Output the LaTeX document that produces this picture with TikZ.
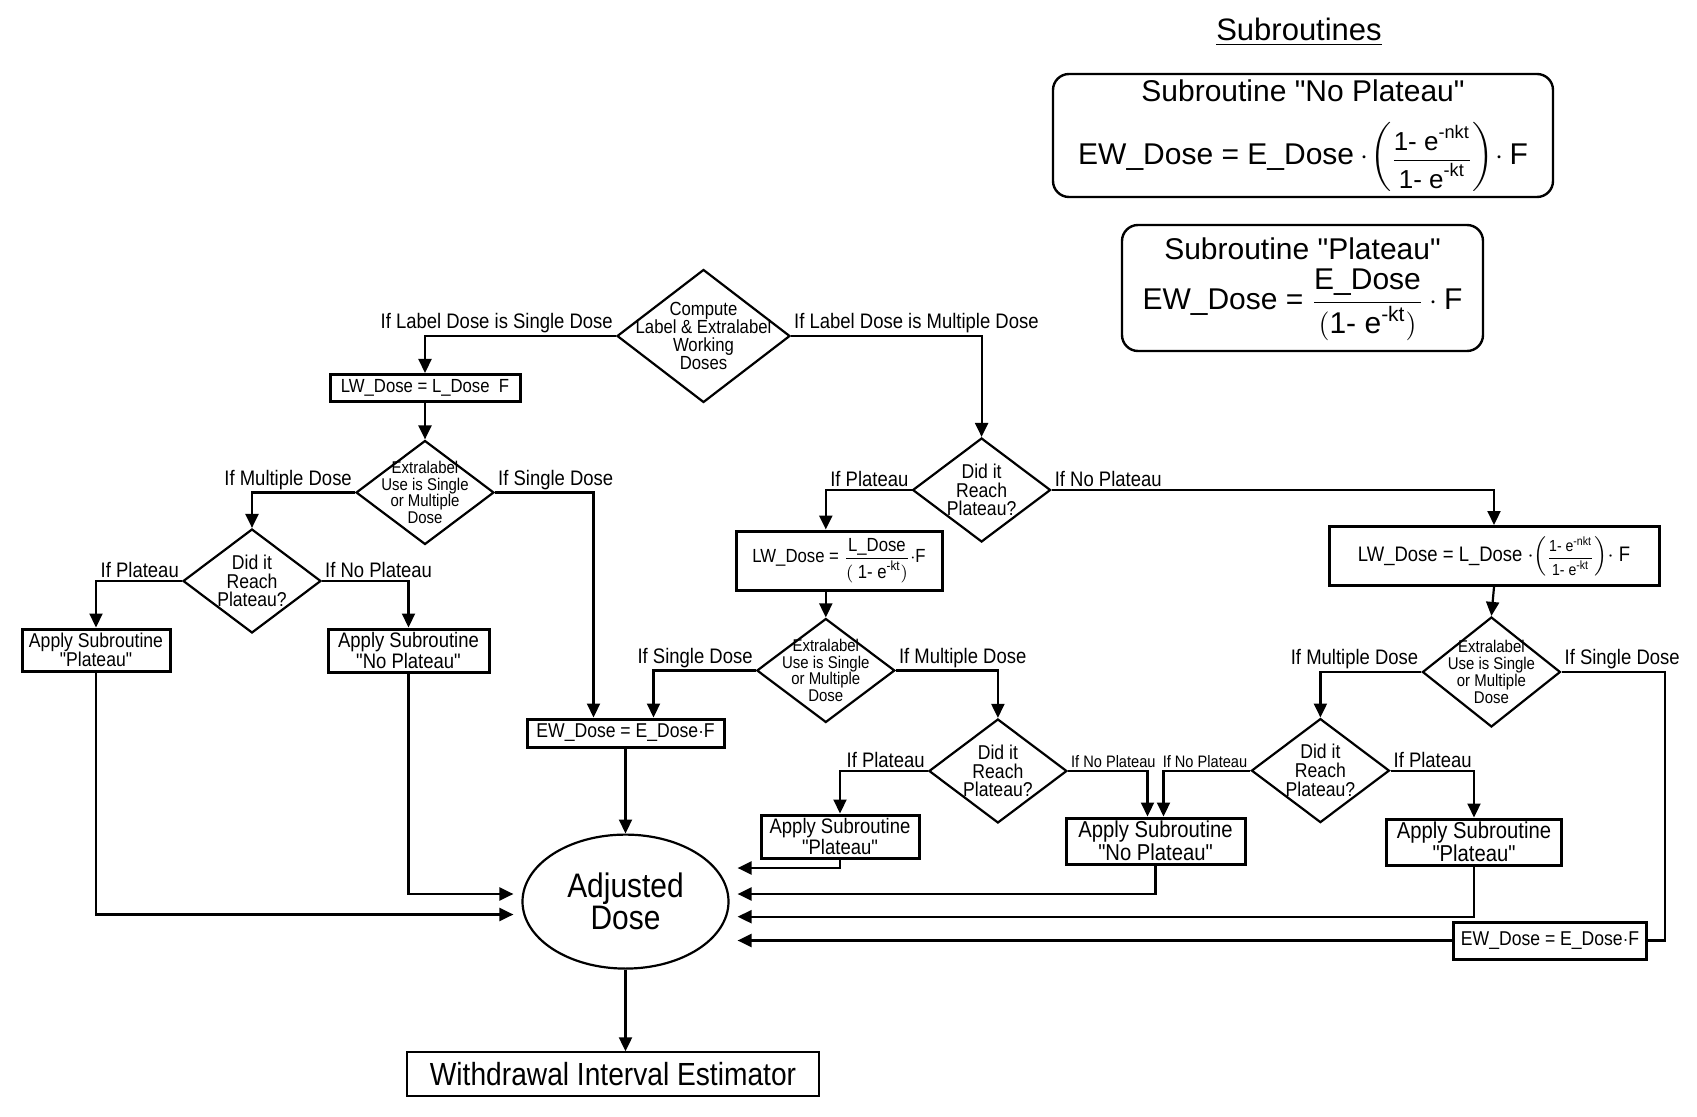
\documentclass[tikz,border=0pt]{standalone}
\usepackage{amsmath}
\usepackage{fontspec}
\setmainfont{Liberation Sans}
\newfontfamily\subfont{Liberation Sans}
\newfontfamily\narrowfont{Liberation Sans}[FakeStretch=0.88]
\usetikzlibrary{shapes.geometric,arrows.meta,calc}
\tikzset{every picture/.style={line width=1.1pt}}

\begin{document}
\begin{tikzpicture}[x=0.5pt,y=0.5pt,yscale=-1,xscale=1,
	flow/.style={-{Triangle[length=7pt,width=6.5pt]}},
	decide/.style={diamond, draw, inner sep=0pt, minimum width=69pt, minimum height=52pt},
	dtext/.style={align=center, inner sep=0pt, font=\narrowfont\fontsize{8.5}{8.4}\selectfont},
	ptext/.style={align=center, inner sep=0pt, font=\narrowfont\fontsize{10}{9.4}\selectfont},
	proc/.style={draw, line width=1.5pt, inner sep=1pt, align=center, font=\narrowfont\fontsize{10.5}{9.5}\selectfont},
	cond/.style={inner sep=1pt, font=\narrowfont\fontsize{10.5}{12}\selectfont},
	condsmall/.style={inner sep=1pt, font=\narrowfont\fontsize{8.3}{10}\selectfont},
	subbox/.style={draw, rounded corners=8pt, line width=1.2pt},
	subtext/.style={inner sep=0pt, font=\subfont\fontsize{15}{18}\selectfont}]
	\useasboundingbox (0,0) rectangle (1697,1117);

	% Text Node
	\node[subtext, font=\subfont\fontsize{15.5}{18}\selectfont] (subt) at (1299,32) {\underline{Subroutines}};
	%Rounded Rect
	\node[subbox, minimum width=250pt, minimum height=61.5pt] (subNP) at (1303,135.5) {};
	\node[subtext] (subNPt) at (1303,91) {Subroutine "No Plateau"};
	\node[subtext] (subNPf) at (1303,157) {$\text{EW\_Dose = E\_Dose}\cdot\!\biggl(\vcenter{\hbox{\fontsize{13}{13}\selectfont$\dfrac{\text{1- e}^{\text{-nkt}}}{\text{1- e}^{\text{-kt}}}$}}\biggr)\!\cdot\text{F}$};
	%Rounded Rect
	\node[subbox, minimum width=180.5pt, minimum height=63pt] (subP) at (1302.5,288) {};
	\node[subtext] (subPt) at (1302.5,249) {Subroutine "Plateau"};
	\node[subtext] (subPf) at (1302.5,305) {$\text{EW\_Dose = }\dfrac{\text{E\_Dose}}{(\text{1- e}^{\text{-kt}})}\cdot\text{F}$};

	%Flowchart: Decision
	\node[decide, minimum width=86.5pt, minimum height=66.5pt] (d0) at (703.5,336) {};
	\node[dtext, font=\narrowfont\fontsize{9.5}{9}\selectfont] (d0t) at (d0) {Compute\\Label \& Extralabel\\Working\\Doses};
	%Flowchart: Decision
	\node[decide] (d2) at (425,492.5) {};
	\node[dtext] (d2t) at (d2) {Extralabel\\Use is Single\\or Multiple\\Dose};
	%Flowchart: Decision
	\node[decide] (d3) at (252,581) {};
	\node[ptext] (d3t) at (d3) {Did it\\Reach\\Plateau?};
	%Flowchart: Decision
	\node[decide] (d1) at (981.6,490) {};
	\node[ptext] (d1t) at (d1) {Did it\\Reach\\Plateau?};
	%Flowchart: Decision
	\node[decide] (d4) at (825.8,670.5) {};
	\node[dtext] (d4t) at (d4) {Extralabel\\Use is Single\\or Multiple\\Dose};
	%Flowchart: Decision
	\node[decide] (d6) at (997.9,771) {};
	\node[ptext] (d6t) at (d6) {Did it\\Reach\\Plateau?};
	%Flowchart: Decision
	\node[decide, minimum height=55pt] (d5) at (1491.4,672) {};
	\node[dtext] (d5t) at (d5) {Extralabel\\Use is Single\\or Multiple\\Dose};
	%Flowchart: Decision
	\node[decide] (d7) at (1320.4,770.6) {};
	\node[ptext] (d7t) at (d7) {Did it\\Reach\\Plateau?};

	%Flowchart: Process
	\node[proc, minimum width=95pt, minimum height=13.5pt, font=\narrowfont\fontsize{9.5}{9}\selectfont] (lw1) at (425,388) {LW\_Dose = L\_Dose\ \ F};
	%Flowchart: Process
	\node[proc, minimum width=74pt, minimum height=21pt, font=\narrowfont\fontsize{10}{9.5}\selectfont] (pl1) at (96,650) {Apply Subroutine\\"Plateau"};
	%Flowchart: Process
	\node[proc, minimum width=80.5pt, minimum height=21.5pt] (np1) at (408.5,650.5) {Apply Subroutine\\"No Plateau"};
	%Flowchart: Process
	\node[proc, minimum width=98.5pt, minimum height=14pt, font=\narrowfont\fontsize{10}{9}\selectfont] (ew1) at (625.5,733) {EW\_Dose = E\_Dose$\cdot$F};
	%Flowchart: Process
	\node[proc, minimum width=103pt, minimum height=29.5pt, font=\narrowfont\fontsize{9.5}{9}\selectfont] (lw2) at (839,560.5) {LW\_Dose = $\dfrac{\text{L\_Dose}}{(\text{ 1- e}^{\text{-kt}})}\cdot$F};
	%Flowchart: Process
	\node[proc, minimum width=165pt, minimum height=29.5pt] (lw3) at (1494,556) {LW\_Dose = L\_Dose $\cdot\!\left(\vcenter{\hbox{\fontsize{8}{8}\selectfont$\dfrac{\text{1- e}^{\text{-nkt}}}{\text{1- e}^{\text{-kt}}}$}}\right)\!\cdot$ F};
	%Flowchart: Process
	\node[proc, minimum width=79pt, minimum height=21.5pt] (pl2) at (840,836.5) {Apply Subroutine\\"Plateau"};
	%Flowchart: Process
	\node[proc, minimum width=89.5pt, minimum height=23pt, font=\narrowfont\fontsize{11.5}{10.5}\selectfont] (np2) at (1155.5,841) {Apply Subroutine\\"No Plateau"};
	%Flowchart: Process
	\node[proc, minimum width=87.5pt, minimum height=23pt, font=\narrowfont\fontsize{11.5}{10.5}\selectfont] (pl3) at (1474,842) {Apply Subroutine\\"Plateau"};
	%Flowchart: Process
	\node[proc, minimum width=96.5pt, minimum height=18.5pt, font=\narrowfont\fontsize{10}{9}\selectfont] (ew2) at (1550,940.5) {EW\_Dose = E\_Dose$\cdot$F};

	%Shape: Ellipse
	\node[ellipse, draw, minimum width=103pt, minimum height=67pt, inner sep=0pt, align=center, font=\narrowfont\fontsize{17}{15}\selectfont] (ell) at (625.5,901.6) {Adjusted\\Dose};
	%Shape: Rectangle
	\node[draw, line width=0.7pt, minimum width=206pt, minimum height=22pt, font=\narrowfont\fontsize{16}{18}\selectfont] (wie) at (613,1074) {Withdrawal Interval Estimator};

	% Text Node
	\node[cond, anchor=south east] (c0l) at (d0.west) {If Label Dose is Single Dose};
	\node[cond, anchor=south west] (c0r) at (d0.east) {If Label Dose is Multiple Dose};
	\node[cond, anchor=south east] (c2l) at (d2.west) {If Multiple Dose};
	\node[cond, anchor=south west] (c2r) at (d2.east) {If Single Dose};
	\node[cond, anchor=south east] (c3l) at (d3.west) {If Plateau};
	\node[cond, anchor=south west] (c3r) at (d3.east) {If No Plateau};
	\node[cond, anchor=south east] (c1l) at (d1.west) {If Plateau};
	\node[cond, anchor=south west] (c1r) at (d1.east) {If No Plateau};
	\node[cond, anchor=south east] (c4l) at (d4.west) {If Single Dose};
	\node[cond, anchor=south west] (c4r) at (d4.east) {If Multiple Dose};
	\node[cond, anchor=south east] (c6l) at (d6.west) {If Plateau};
	\node[condsmall, anchor=south west] (c6r) at (d6.east) {If No Plateau};
	\node[cond, anchor=south east] (c5l) at (d5.west) {If Multiple Dose};
	\node[cond, anchor=south west] (c5r) at (d5.east) {If Single Dose};
	\node[condsmall, anchor=south east] (c7l) at (d7.west) {If No Plateau};
	\node[cond, anchor=south west] (c7r) at (d7.east) {If Plateau};

	\coordinate (inL) at ([xshift=-4pt]ell.west);
	\coordinate (inR) at ([xshift=4pt]ell.east);
	\coordinate (ew2c) at ($(ew2.east)+(17,0)$);

	%Straight Lines
	\draw[flow] (d0.west) -| (lw1.north);
	\draw[flow] (d0.east) -| (d1.north);
	\draw[flow] (lw1.south) -- (d2.north);
	\draw[flow] (d2.west) -| (d3.north);
	\draw[flow] (d2.east) -| ($(ew1.north)+(-32,0)$);
	\draw[flow] (d3.west) -| (pl1.north);
	\draw[flow] (d3.east) -| (np1.north);
	\draw[flow] (pl1.south) |- (inL |- 0,914.5);
	\draw[flow] (np1.south) |- (inL |- 0,894);
	\draw[flow] (ew1.south) -- (ell.north);
	\draw[flow] (ell.south) -- (ell.south |- wie.north);

	%Straight Lines
	\draw[flow] (d1.west) -| (d4.north |- lw2.north);
	\draw[flow] (d1.east) -| (lw3.north);
	\draw[flow] (lw2.south -| d4.north) -- (d4.north);
	\draw[flow] (lw3.south) -- (d5.north);
	\draw[flow] (d4.west) -| ($(ew1.north)+(28,0)$);
	\draw[flow] (d4.east) -| (d6.north);
	\draw[flow] (d6.west) -| (pl2.north);
	\draw[flow] (d6.east) -| ($(np2.north)+(-8,0)$);
	\draw[flow] (d5.west) -| (d7.north);
	\draw[flow] (d7.west) -| ($(np2.north)+(8,0)$);
	\draw[flow] (d7.east) -| (pl3.north);
	\draw (d5.east) -| (ew2c) -- (ew2.east);

	%Straight Lines
	\draw[flow] (pl2.south) |- (inR |- 0,868);
	\draw[flow] (np2.south) |- (inR |- 0,894);
	\draw[flow] (pl3.south) |- (inR |- 0,916.7);
	\draw[flow] (ew2.west) -- (inR |- ew2.west);

\end{tikzpicture}
\end{document}
